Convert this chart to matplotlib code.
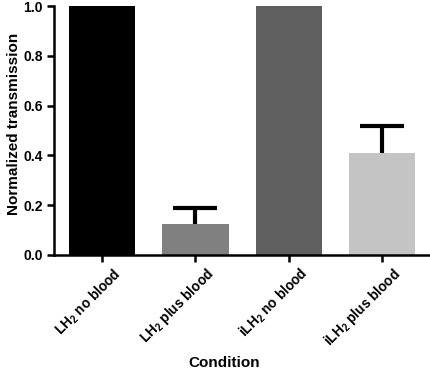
import matplotlib

matplotlib.use('Agg')
import matplotlib.pyplot as plt

plt.rcParams['font.family'] = ['Liberation Sans', 'DejaVu Sans']
plt.rcParams['font.weight'] = 'bold'
plt.rcParams['mathtext.fontset'] = 'custom'
plt.rcParams['mathtext.rm'] = 'Liberation Sans:bold'
plt.rcParams['mathtext.default'] = 'rm'

# Data
conditions = [r"LH$_2$ no blood", r"LH$_2$ plus blood", r"iLH$_2$ no blood", r"iLH$_2$ plus blood"]
means = [1.0, 0.125, 1.0, 0.41]
upper_err = [0.0, 0.065, 0.0, 0.11]
colors = ['#000000', '#808080', '#5f5f5f', '#c4c4c4']
y_ticks = [0.0, 0.2, 0.4, 0.6, 0.8, 1.0]


def main():
    fig = plt.figure(figsize=(4.31, 3.70), dpi=100)
    ax = fig.add_axes([54 / 431, 115 / 370, 377 / 431, 249 / 370])

    x = list(range(len(conditions)))
    ax.bar(x, means, width=0.71, color=colors, zorder=2)
    # upper-only error bars: hide the lower caps
    _, caps, _ = ax.errorbar(x, means, yerr=[[0] * len(means), upper_err], fmt='none',
                             ecolor='black', elinewidth=3, capsize=15.5, capthick=3, zorder=1)
    caps[0].set_visible(False)

    ax.set_xlim(-0.515, 3.525)
    ax.set_ylim(0, 1.0)
    ax.set_yticks(y_ticks)
    ax.set_yticklabels([f"{t:.1f}" for t in y_ticks], fontsize=10, fontweight='bold')
    ax.set_xticks(x)
    ax.set_xticklabels([])
    # rotated category labels, shifted right of the ticks like the original
    for i, name in zip(x, conditions):
        ax.annotate(name, xy=(i, 0), xycoords=('data', 'axes fraction'),
                    xytext=(7.5, -7.5), textcoords='offset points',
                    rotation=45, ha='right', va='top', rotation_mode='anchor',
                    fontsize=9.8, fontweight='bold', annotation_clip=False)

    for side in ['top', 'right']:
        ax.spines[side].set_visible(False)
    for side in ['left', 'bottom']:
        ax.spines[side].set_linewidth(1.8)
    ax.tick_params(axis='both', width=1.8, length=5, pad=3)

    fig.text(14 / 431, 1 - 124 / 370, "Normalized transmission", rotation=90,
             ha='center', va='center', fontsize=11, fontweight='bold')
    fig.text(224 / 431, 1 - 363 / 370, "Condition", ha='center', va='center',
             fontsize=11, fontweight='bold')

    fig.savefig("out.png", dpi=100)
    plt.close(fig)


if __name__ == "__main__":
    main()
